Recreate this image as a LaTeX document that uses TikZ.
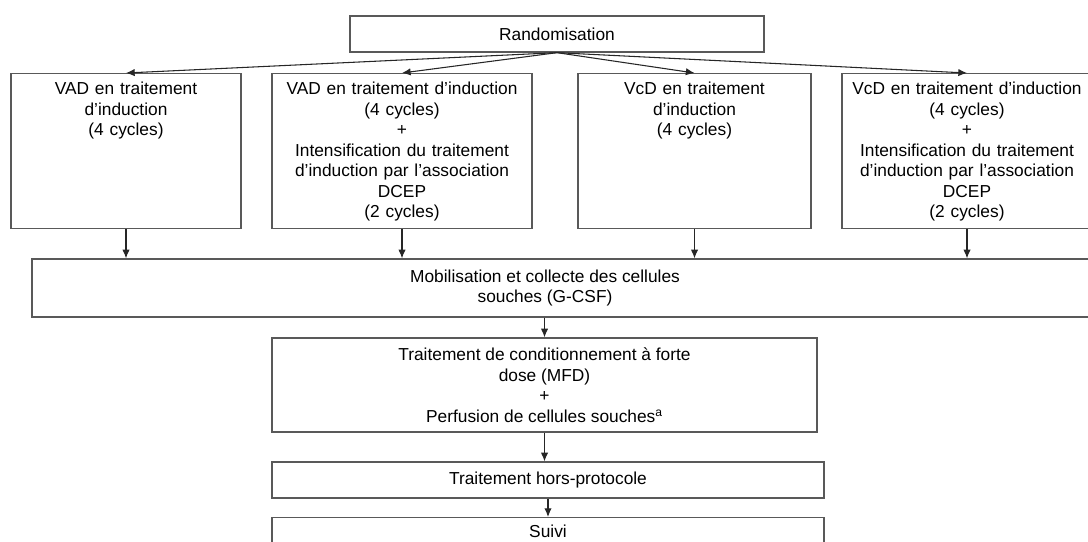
\documentclass[tikz,border=0pt]{standalone}
\usepackage{fontspec}
\setmainfont{Liberation Sans}
\usetikzlibrary{arrows.meta}
\tikzstyle{box} = [rectangle, draw=black!65, line width=1pt, text centered, inner sep=3pt]
\tikzstyle{armbox} = [box, anchor=north, align=center, text height=12.75pt, text depth=97.5pt]
\tikzstyle{arrow} = [line width=0.8pt, draw=black!85, -{Latex[length=6.5pt, width=5.5pt]}]

\begin{document}
\begin{tikzpicture}[x=0.75pt, y=-0.75pt, font=\fontsize{13}{15.4}\selectfont]

        \useasboundingbox (0,0) rectangle (1088,542);
        \clip (0,0) rectangle (1088,542);

        % Nodes
        \node (rand) [box, minimum width=310.5pt, minimum height=27pt] at (557,34) {Randomisation};
        \node (vad) [armbox, minimum width=172.5pt, text width=164pt] at (126,73) {VAD en traitement\\d'induction\\(4 cycles)};
        \node (vadDcep) [armbox, minimum width=195pt, text width=188pt] at (402,73) {VAD en traitement d'induction\\(4 cycles)\\+\\Intensification du traitement\\d'induction par l'association\\DCEP\\(2 cycles)};
        \node (vcd) [armbox, minimum width=174.75pt, text width=166pt] at (694.5,73) {VcD en traitement\\d'induction\\(4 cycles)};
        \node (vcdDcep) [armbox, minimum width=187.5pt, text width=181pt] at (967,73) {VcD en traitement d'induction\\(4 cycles)\\+\\Intensification du traitement\\d'induction par l'association\\DCEP\\(2 cycles)};
        \node (mobil) [box, minimum width=801pt, minimum height=43.5pt, label={[xshift=-15.75pt, align=center]center:{Mobilisation et collecte des cellules\\souches (G-CSF)}}] at (566,288) {};
        \node (treat) [box, minimum width=408.75pt, minimum height=70.5pt, align=center] at (544.5,385) {Traitement de conditionnement à forte\\dose (MFD)\\+\\Perfusion de cellules souches\textsuperscript{a}};
        \node (hors) [box, minimum width=414pt, minimum height=27pt] at (548,480) {Traitement hors-protocole};
        \node (suivi) [box, anchor=north, minimum width=414pt, minimum height=21pt] at (548,517) {Suivi};

        % Arrows
        \draw [arrow] (rand.south) -- (vad.north);
        \draw [arrow] (rand.south) -- (vadDcep.north);
        \draw [arrow] (rand.south) -- (vcd.north);
        \draw [arrow] (rand.south) -- (vcdDcep.north);
        \draw [arrow] (vad.south) -- (vad.south |- mobil.north);
        \draw [arrow] (vadDcep.south) -- (vadDcep.south |- mobil.north);
        \draw [arrow] (vcd.south) -- (vcd.south |- mobil.north);
        \draw [arrow] (vcdDcep.south) -- (vcdDcep.south |- mobil.north);
        \draw [arrow] (treat.north |- mobil.south) -- (treat.north);
        \draw [arrow] (treat.south) -- (treat.south |- hors.north);
        \draw [arrow] (hors.south) -- (suivi.north);

\end{tikzpicture}
\end{document}
